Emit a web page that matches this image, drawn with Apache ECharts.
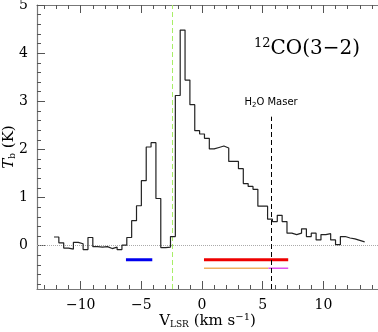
<!DOCTYPE html>
<html>
<head>
<meta charset="utf-8">
<script src="https://cdn.jsdelivr.net/npm/echarts@6/dist/echarts.min.js"></script>
<style>
html, body { margin: 0; padding: 0; background: #fff; }
#chart { width: 378px; height: 332px; }
</style>
</head>
<body>
<div id="chart"></div>
<script>
// 12CO(3-2) spectrum, channels of 0.4 km/s starting at -12.2 km/s
var chanStart = -12.2;
var chanWidth = 0.4;
var tb = [
    0.18, 0.06, -0.05, -0.07, 0.07, 0.04, -0.08, 0.17, -0.02, -0.03,
    -0.02, -0.06, -0.03, -0.08, 0.01, 0.17, 0.52, 0.83, 1.35, 2.05,
    2.14, 0.98, -0.04, -0.03, 0.19, 3.12, 4.48, 3.44, 2.93, 2.39,
    2.32, 2.23, 2.01, 2.04, 2.07, 2.03, 1.75, 1.75, 1.60, 1.29,
    1.23, 1.17, 0.82, 0.82, 0.55, 0.50, 0.63, 0.50, 0.26, 0.23,
    0.26, 0.35, 0.19, 0.26, 0.12, 0.23, 0.25, 0.12, 0.02, 0.19,
    0.16, 0.14, 0.11, 0.08
];

// axis ticks
var xMajor = [-10, -5, 0, 5, 10];
var xMinor = [-13, -12, -11, -9, -8, -7, -6, -4, -3, -2, -1, 1, 2, 3, 4, 6, 7, 8, 9, 11, 12, 13, 14];
var yMajor = [0, 1, 2, 3, 4, 5];
var yMinor = [];
for (var i = -4; i < 25; i++) {
    if (i % 5 != 0) yMinor.push(Math.round(i * 2) / 10);
}

// markers
var vGreen = -2.45;           // green dashed line
var vMaser = 5.69;            // H2O maser velocity
var maserTop = 2.68;
var blueWing = [-6.27, -4.1];
var redWing = [0.16, 7.1];
var orangeSeg = [0.16, 5.47];
var magentaSeg = [5.47, 7.1];
var wingLevel = -0.29;
var thinLevel = -0.47;

var xMin = -13.6, xMax = 14.5, yMin = -0.9, yMax = 5;

var stepData = tb.map(function (v, k) {
    return [chanStart + k * chanWidth, v];
});
stepData.push([chanStart + tb.length * chanWidth, tb[tb.length - 1]]);

function segment(r, y) {
    return [[r[0], y], [r[1], y]];
}

var serif = 'DejaVu Serif';
var axisGray = '#777';

function xAx(pos, ticks, len, main) {
    return {
        type: 'value', position: pos, min: xMin, max: xMax,
        axisLine: { show: main, onZero: false, lineStyle: { color: axisGray, width: 1.2 } },
        axisTick: { show: true, inside: true, length: len, customValues: ticks,
            lineStyle: { color: '#555', width: 1 } },
        axisLabel: { show: main && pos == 'bottom', customValues: ticks, margin: 9,
            fontFamily: serif, fontSize: 14, color: '#000',
            formatter: function (v) { return v < 0 ? '\u2212' + Math.abs(v) : '' + v; } },
        splitLine: { show: false }
    };
}

function yAx(ticks, len, main) {
    return {
        type: 'value', position: 'left', min: yMin, max: yMax,
        axisLine: { show: main, onZero: false, lineStyle: { color: axisGray, width: 1.2 } },
        axisTick: { show: true, inside: true, length: len, customValues: ticks,
            lineStyle: { color: '#555', width: 1 } },
        axisLabel: { show: main, customValues: ticks, margin: 9,
            fontFamily: serif, fontSize: 14, color: '#000' },
        splitLine: { show: false }
    };
}

var xAxes = [xAx('bottom', xMajor, 8, true), xAx('bottom', xMinor, 4, false),
             xAx('top', xMajor, 8, true), xAx('top', xMinor, 4, false)];
xAxes[0].name = '{n|V}{sub|LSR}{n| (km s}{sup|\u22121}{n|)}';
xAxes[0].nameLocation = 'middle';
xAxes[0].nameGap = 23;
xAxes[0].nameMoveOverlap = false;
xAxes[0].nameTextStyle = {
    rich: {
        n: { fontFamily: serif, fontSize: 15, color: '#000' },
        sub: { fontFamily: serif, fontSize: 9, color: '#000', padding: [7, 0, 0, 0] },
        sup: { fontFamily: serif, fontSize: 10, color: '#000', padding: [0, 0, 8, 0] }
    }
};

var yAxes = [yAx(yMajor, 8, true), yAx(yMinor, 4, false)];
yAxes[0].name = '{it|T}{sub|b}{n| (K)}';
yAxes[0].nameLocation = 'middle';
yAxes[0].nameRotate = 90;
yAxes[0].nameGap = 20;
yAxes[0].nameMoveOverlap = false;
yAxes[0].nameTextStyle = {
    rich: {
        n: { fontFamily: serif, fontSize: 15, color: '#000' },
        it: { fontFamily: serif, fontSize: 15, fontStyle: 'italic', color: '#000' },
        sub: { fontFamily: serif, fontSize: 9, color: '#000', padding: [7, 0, 0, 0] }
    }
};

function vLine(name, mk, color, dash) {
    return {
        name: name, type: 'line', data: [], silent: true,
        markLine: {
            silent: true, symbol: 'none', label: { show: false },
            lineStyle: { color: color, type: dash, width: 1 },
            data: mk
        }
    };
}

var chart = echarts.init(document.getElementById('chart'), null, { renderer: 'canvas' });
chart.setOption({
    animation: false,
    backgroundColor: '#fff',
    title: {
        text: '{sup|12}{n|CO(3\u22122)}',
        right: 13, top: 32,
        textStyle: {
            rich: {
                n: { fontFamily: serif, fontSize: 20, fontWeight: 'normal', color: '#000' },
                sup: { fontFamily: serif, fontSize: 13, fontWeight: 'normal', color: '#000', padding: [0, 0, 10, 0] }
            }
        }
    },
    grid: { left: 37, right: 0, top: 5, bottom: 43, outerBoundsMode: 'none', containLabel: false },
    xAxis: xAxes,
    yAxis: yAxes,
    series: [
        vLine('zero', [{ yAxis: 0 }], '#aaa', 'dotted'),
        vLine('green', [{ xAxis: vGreen }], '#a8ee66', [5, 3]),
        {
            name: 'maser', type: 'line', data: [], silent: true,
            markLine: {
                silent: true, symbol: 'none',
                lineStyle: { color: '#000', type: [5, 3], width: 1 },
                label: { show: true, position: 'end', distance: 8,
                         formatter: '{n|H}{sub|2}{n|O Maser}',
                         rich: {
                             n: { fontFamily: 'DejaVu Sans', fontSize: 10, color: '#000' },
                             sub: { fontFamily: 'DejaVu Sans', fontSize: 7, color: '#000', padding: [5, 0, 0, 0] }
                         } },
                data: [[{ coord: [vMaser, yMin] }, { coord: [vMaser, maserTop] }]]
            }
        },
        {
            name: 'spectrum', type: 'line', step: 'end', data: stepData, showSymbol: false,
            lineStyle: { color: '#222', width: 1.2 }, z: 5
        },
        { type: 'line', data: segment(blueWing, wingLevel), showSymbol: false,
          lineStyle: { color: '#0000ee', width: 3 } },
        { type: 'line', data: segment(redWing, wingLevel), showSymbol: false,
          lineStyle: { color: '#ee0000', width: 3 } },
        { type: 'line', data: segment(orangeSeg, thinLevel), showSymbol: false,
          lineStyle: { color: '#f0b060', width: 1.5 } },
        { type: 'line', data: segment(magentaSeg, thinLevel), showSymbol: false,
          lineStyle: { color: '#e050f0', width: 1.5 } }
    ]
});
</script>
</body>
</html>
